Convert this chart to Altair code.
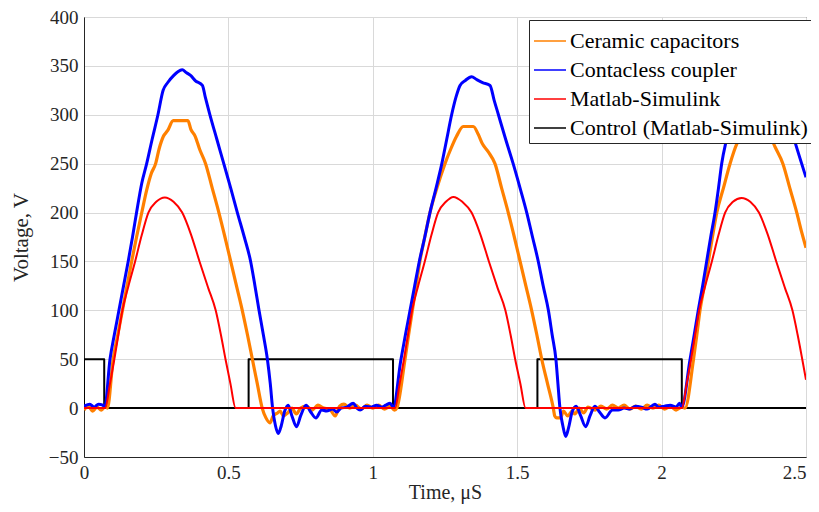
import altair as alt
import pandas as pd

# ---------------- data ----------------
series_names = ["Ceramic capacitors", "Contacless coupler", "Matlab-Simulink", "Control (Matlab-Simulink)"]
series_colors = ["#FF8000", "#0000FF", "#FF0000", "#000000"]

orange_t = [0, 0.015, 0.03, 0.045, 0.06, 0.075, 0.081,
            0.101, 0.117, 0.133, 0.149, 0.165, 0.182, 0.2, 0.217, 0.233, 0.248, 0.26, 0.275, 0.29, 0.309, 0.36,
            0.37, 0.385, 0.4, 0.421, 0.444, 0.467, 0.488, 0.508, 0.528, 0.548, 0.566, 0.583, 0.6, 0.617,
            0.63, 0.644, 0.655, 0.67, 0.679, 0.69, 0.705, 0.72, 0.735, 0.75, 0.77, 0.79, 0.81, 0.83, 0.85,
            0.87, 0.885, 0.9, 0.92, 0.94, 0.96, 0.98, 1.0, 1.02, 1.04, 1.06, 1.075, 1.083,
            1.111, 1.124, 1.137, 1.15, 1.163, 1.18, 1.198, 1.222, 1.25, 1.27, 1.29, 1.313, 1.348,
            1.365, 1.38, 1.4, 1.423, 1.446, 1.469, 1.49, 1.51, 1.53, 1.55, 1.568, 1.585, 1.605, 1.625,
            1.63, 1.637, 1.65, 1.66, 1.675, 1.69, 1.7, 1.715, 1.73, 1.745, 1.77, 1.79, 1.81, 1.83, 1.85,
            1.87, 1.89, 1.91, 1.93, 1.95, 1.97, 1.99, 2.01, 2.03, 2.05, 2.07, 2.081,
            2.11, 2.122, 2.133, 2.148, 2.162, 2.176, 2.191, 2.214, 2.237, 2.26, 2.29, 2.33, 2.36,
            2.393, 2.42, 2.444, 2.468, 2.485, 2.5]
orange_v = [-2, 2, -3, 1, -2, 2, 0,
            50, 75, 100, 125, 150, 175, 200, 223, 240, 250, 265, 278, 284, 294, 294,
            285, 278, 265, 250, 225, 200, 175, 150, 125, 100, 75, 50, 25, 0,
            -10, -15, -8, -5, -3, -8, -5, 0, -6, 0, 2, -2, 3, 0, -1,
            -8, 2, 4, 0, 3, -1, 3, 0, 3, -1, 2, -2, 0,
            49, 75, 100, 125, 150, 175, 200, 225, 250, 265, 278, 288, 288,
            280, 270, 262, 250, 225, 200, 175, 150, 125, 100, 75, 50, 25, 0,
            -8, -10, -10, -3, -8, -3, -6, 0, -5, 1, -2, 2, -1, 3, 0,
            3, -1, 2, -1, 3, 0, 3, -1, 2, -2, 1, 0,
            49, 75, 100, 125, 150, 175, 200, 225, 250, 270, 283, 290, 288,
            267, 250, 225, 200, 180, 164]

blue_t = [0, 0.02, 0.035, 0.05, 0.065, 0.072,
          0.09, 0.105, 0.121, 0.137, 0.153, 0.168, 0.182, 0.2, 0.217, 0.236, 0.256, 0.274, 0.29, 0.31, 0.325,
          0.34, 0.355, 0.37, 0.385, 0.41, 0.42, 0.436, 0.46, 0.484, 0.508, 0.531, 0.555, 0.577, 0.592, 0.606,
          0.621, 0.635, 0.645, 0.653, 0.663, 0.673, 0.683, 0.695, 0.707, 0.72, 0.736, 0.75, 0.769, 0.785,
          0.803, 0.823, 0.84, 0.86, 0.875, 0.89, 0.91, 0.932, 0.945, 0.956, 0.975, 0.995, 1.013, 1.03,
          1.045, 1.06, 1.071,
          1.097, 1.113, 1.129, 1.145, 1.161, 1.18, 1.198, 1.219, 1.239, 1.256, 1.273, 1.288, 1.302, 1.32,
          1.342, 1.36, 1.38, 1.406, 1.42, 1.435, 1.46, 1.486, 1.51, 1.533, 1.553, 1.573, 1.59, 1.608,
          1.621, 1.634, 1.641, 1.648, 1.658, 1.668, 1.678, 1.69, 1.704, 1.72, 1.737, 1.752, 1.769, 1.785,
          1.804, 1.83, 1.85, 1.87, 1.89, 1.91, 1.93, 1.95, 1.977, 1.99, 2.01, 2.03, 2.05, 2.062, 2.07,
          2.098, 2.113, 2.127, 2.142, 2.156, 2.17, 2.185, 2.197, 2.208, 2.225, 2.245, 2.265, 2.29, 2.32,
          2.345, 2.37, 2.4, 2.43, 2.462, 2.485, 2.5]
blue_v = [2, 4, 1, 4, 3, 1,
          50, 75, 100, 125, 150, 175, 200, 230, 250, 275, 300, 325, 333, 340, 344,
          346, 343, 340, 335, 330, 318, 300, 275, 250, 225, 200, 175, 150, 125, 100,
          75, 50, 25, 0, -18, -26, -18, -3, 3, -8, -19, -8, 3, -4,
          -10, -2, -3, -1, -4, 0, 1, 5, 0, -2, 2, 1, 3, 1,
          3, 5, 1,
          49, 75, 100, 125, 150, 175, 200, 225, 250, 275, 300, 318, 330, 335,
          339, 336, 333, 330, 315, 300, 275, 250, 225, 200, 175, 150, 125, 100,
          75, 50, 25, 0, -18, -29, -20, -4, 2, -8, -19, -8, 2, -4,
          -10, -2, -2, 0, -1, 2, 1, -1, 4, 1, 2, 3, 1, 5, 1,
          49, 75, 100, 125, 150, 175, 200, 225, 250, 275, 300, 322, 338, 345,
          346, 343, 330, 305, 272, 250, 236]

red_t = [0, 0.073, 0.09, 0.105, 0.119, 0.133, 0.154, 0.177, 0.2, 0.223, 0.25, 0.28, 0.31, 0.34, 0.37,
         0.4, 0.43, 0.456, 0.474, 0.49, 0.507, 0.525,
         1.077, 1.093, 1.108, 1.122, 1.136, 1.157, 1.18, 1.203, 1.226, 1.253, 1.279, 1.31, 1.342, 1.372,
         1.402, 1.432, 1.459, 1.477, 1.493, 1.511, 1.529,
         2.07, 2.087, 2.102, 2.116, 2.13, 2.151, 2.174, 2.197, 2.22, 2.247, 2.277, 2.307, 2.337, 2.367,
         2.397, 2.427, 2.453, 2.471, 2.487, 2.5]
red_v = [0, 0, 25, 50, 75, 100, 125, 150, 177, 200, 211, 215.5, 211, 200, 178,
         150, 123, 100, 75, 50, 25, 0,
         0, 25, 50, 75, 100, 125, 150, 177, 200, 211, 216, 211, 200, 178,
         150, 123, 100, 75, 50, 25, 0,
         0, 25, 50, 75, 100, 125, 150, 177, 200, 211, 215, 211, 200, 178,
         150, 123, 100, 75, 50, 29]

black_t = [0, 0, 0.07, 0.07, 0.57, 0.57, 1.07, 1.07, 1.57, 1.57, 2.07, 2.07, 2.5]
black_v = [0, 50, 50, 0, 0, 50, 50, 0, 0, 50, 50, 0, 0]

x_ticks = [0, 0.5, 1, 1.5, 2, 2.5]
y_ticks = [-50, 0, 50, 100, 150, 200, 250, 300, 350, 400]

# ---------------- build table ----------------
rows = []
for name, ts, vs in [(series_names[0], orange_t, orange_v),
                     (series_names[1], blue_t, blue_v),
                     (series_names[2], red_t, red_v),
                     (series_names[3], black_t, black_v)]:
    for i, (t, v) in enumerate(zip(ts, vs)):
        rows.append({"series": name, "t": t, "v": v, "i": i})
df = pd.DataFrame(rows)

FONT = "Liberation Serif"

color = alt.Color(
    "series:N",
    scale=alt.Scale(domain=series_names, range=series_colors),
    legend=alt.Legend(
        title=None, orient="none", legendX=445, legendY=3,
        fillColor="white", strokeColor="#262626",
        padding=4, labelFont=FONT, labelFontSize=22, labelColor="#000000",
        symbolType="stroke", symbolSize=1024, symbolStrokeWidth=1.5,
        labelOffset=3, rowPadding=1, labelLimit=0,
    ),
)

x = alt.X("t:Q", scale=alt.Scale(domain=[0, 2.5], nice=False),
          axis=alt.Axis(values=x_ticks, format="~g", title="Time, μS",
                        labelFont=FONT, labelFontSize=19, labelColor="#262626",
                        labelAlign={"condition": {"test": "datum.value >= 2.5", "value": "right"},
                                    "value": "center"},
                        titleFont=FONT, titleFontSize=20, titleFontWeight="normal", titleColor="#262626",
                        titlePadding=0, labelPadding=6, ticks=False,
                        domainColor="#262626", gridColor="#d9d9d9", labelFlush=False))
y = alt.Y("v:Q", scale=alt.Scale(domain=[-50, 400], nice=False),
          axis=alt.Axis(values=y_ticks, title="Voltage, V",
                        labelFont=FONT, labelFontSize=19, labelColor="#262626",
                        titleFont=FONT, titleFontSize=21, titleFontWeight="normal", titleColor="#262626",
                        titlePadding=17, labelPadding=6, ticks=False,
                        domainColor="#262626", gridColor="#d9d9d9", labelFlush=False))

base = alt.Chart(df)

def layer(name, width, interp):
    return base.transform_filter(alt.datum.series == name).mark_line(
        strokeWidth=width, strokeJoin="round", clip=True, interpolate=interp
    ).encode(x=x, y=y, color=color, order=alt.Order("i:Q"))

chart = alt.layer(
    layer(series_names[3], 2, "linear"),
    layer(series_names[0], 3.2, "monotone"),
    layer(series_names[1], 3, "monotone"),
    layer(series_names[2], 2, "monotone"),
).properties(
    width=722, height=440,
    autosize=alt.AutoSizeParams(type="none"),
    padding={"left": 76, "top": 9, "right": 5, "bottom": 47},
).configure_view(stroke="#262626", strokeWidth=1).configure_axis(gridWidth=1)

chart.save("out.html", embed_options={"renderer": "svg", "actions": False})
